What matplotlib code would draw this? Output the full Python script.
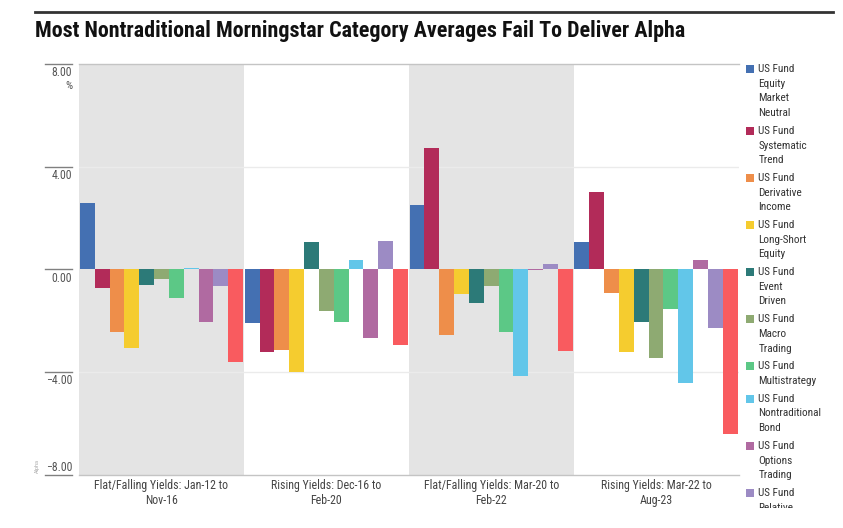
import matplotlib
matplotlib.use('Agg')
import matplotlib.pyplot as plt
import numpy as np
from matplotlib.lines import Line2D
from matplotlib.patches import Rectangle

plt.rcParams['font.family'] = ['Roboto Condensed', 'DejaVu Sans']

# Categories (x groups)
periods = ['Flat/Falling Yields: Jan-12 to\nNov-16',
           'Rising Yields: Dec-16 to\nFeb-20',
           'Flat/Falling Yields: Mar-20 to\nFeb-22',
           'Rising Yields: Mar-22 to\nAug-23']

# Series names (legend)
funds = ['US Fund\nEquity\nMarket\nNeutral',
         'US Fund\nSystematic\nTrend',
         'US Fund\nDerivative\nIncome',
         'US Fund\nLong-Short\nEquity',
         'US Fund\nEvent\nDriven',
         'US Fund\nMacro\nTrading',
         'US Fund\nMultistrategy',
         'US Fund\nNontraditional\nBond',
         'US Fund\nOptions\nTrading',
         'US Fund\nRelative\nValue\nArbitrage',
         'US Fund\nLong-Short\nCredit']

colors = ['#4470b2', '#b22b59', '#ee8e4a', '#f5cc2f', '#2c7a78', '#8eaa72',
          '#5cc886', '#62c6e9', '#b06aa1', '#9c8bc4', '#f95b5f']

# alpha values (%) per fund, one entry per period
equity_market_neutral = [2.57, -2.08, 2.49, 1.05]
systematic_trend = [-0.74, -3.22, 4.73, 3.01]
derivative_income = [-2.44, -3.15, -2.55, -0.92]
long_short_equity = [-3.07, -3.99, -0.96, -3.24]
event_driven = [-0.61, 1.05, -1.31, -2.07]
macro_trading = [-0.39, -1.61, -0.65, -3.47]
multistrategy = [-1.10, -2.07, -2.46, -1.56]
nontraditional_bond = [0.04, 0.35, -4.15, -4.43]
options_trading = [-2.05, -2.68, -0.03, 0.35]
relative_value = [-0.65, 1.09, 0.22, -2.30]
long_short_credit = [-3.60, -2.94, -3.19, -6.41]

series = [equity_market_neutral, systematic_trend, derivative_income,
          long_short_equity, event_driven, macro_trading, multistrategy,
          nontraditional_bond, options_trading, relative_value,
          long_short_credit]

yticks = [8, 4, 0, -4, -8]
ytick_labels = ['8.00', '4.00', '0.00', '\u22124.00', '\u22128.00']

W, H = 843, 528
fig = plt.figure(figsize=(W / 100, H / 100), dpi=100)
ax = fig.add_axes([79 / W, 1 - 474.6 / H, (738.5 - 79) / W, (474.6 - 64) / H])

# alternating shaded bands
for g in range(len(periods)):
    if g % 2 == 0:
        ax.axvspan(g - 0.5, g + 0.5, color='#e4e4e4', lw=0, zorder=0)

for v in [4, -4]:
    ax.axhline(v, color='#ebebeb', lw=1, zorder=1)

x = np.arange(len(periods))
n = len(series)
bw = 0.99 / n
for i, vals in enumerate(series):
    ax.bar(x + (i - (n - 1) / 2) * bw, vals, width=bw, color=colors[i],
           lw=0, zorder=2)

ax.set_xlim(-0.5, len(periods) - 0.5)
ax.set_ylim(-8, 8)
ax.set_xticks(x)
ax.set_xticklabels(periods, fontsize=8.6, color='#444444', linespacing=1.25)
ax.tick_params(axis='x', length=0, pad=3)
ax.set_yticks([])
for s in ['left', 'right']:
    ax.spines[s].set_visible(False)
for s in ['top', 'bottom']:
    ax.spines[s].set_color('#c4c4c4')
    ax.spines[s].set_linewidth(1)

# y tick marks drawn to the left of the plot, labels under them
ytr = ax.get_yaxis_transform()
for v, lab in zip(yticks, ytick_labels):
    ax.add_line(Line2D([-0.0516, -0.0106], [v, v], transform=ytr,
                       color='#808080', lw=1, clip_on=False))
    off = 7.5 if v == -8 else -9
    ax.annotate(lab, xy=(-0.0106, v), xycoords=ytr, xytext=(0, off * 0.72),
                textcoords='offset points', ha='right', va='center',
                fontsize=8.5, color='#555555')
ax.annotate('%', xy=(-0.0106, 8), xycoords=ytr, xytext=(0, -22 * 0.72),
            textcoords='offset points', ha='right', va='center',
            fontsize=8, color='#555555')
fig.text(37 / W, 1 - 466 / H, 'Alpha', rotation=90, fontsize=4.5,
         color='#b0b0b0', ha='center', va='center')

# title and top rule
fig.add_artist(Line2D([35 / W, 833 / W], [1 - 12 / H] * 2, color='#333333', lw=2))
fig.text(35 / W, 1 - 31 / H, 'Most Nontraditional Morningstar Category Averages Fail To Deliver Alpha',
         fontsize=15.8, fontweight='bold', color='#111111', va='center', ha='left')

# legend, drawn manually to match layout; the panel cuts it off near y=508
y = 69.0
step = 14.7
cut = 508
for name, c in zip(funds, colors):
    if y > cut:
        break
    lines = name.split('\n')
    fig.add_artist(Rectangle((746 / W, 1 - (y + 4) / H), 8 / W, 8 / H,
                             transform=fig.transFigure, color=c, lw=0))
    for k, ln in enumerate(lines):
        ly = y + k * step
        if ly - 5 > cut:
            break
        fig.text(758.5 / W, 1 - ly / H, ln, fontsize=8.1,
                 color='#333333', va='center', ha='left')
    y += len(lines) * step + 3

fig.add_artist(Rectangle((741 / W, 0), 1, (H - cut) / H, transform=fig.transFigure,
                         color='white', lw=0, zorder=10))

fig.savefig('out.png', dpi=100)
